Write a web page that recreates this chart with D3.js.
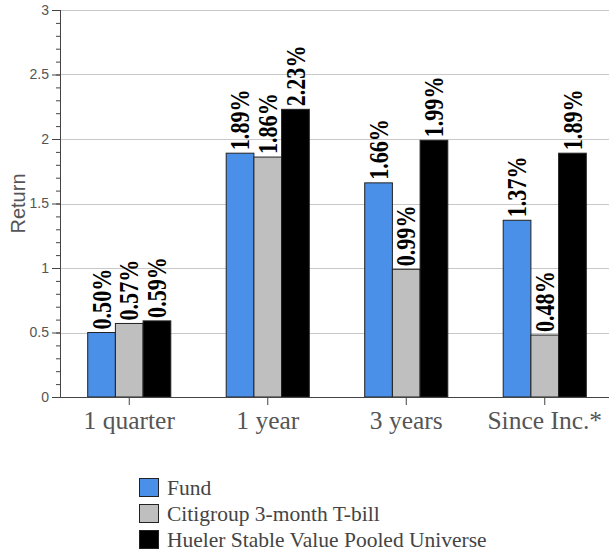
<!DOCTYPE html>
<html>
<head>
<meta charset="utf-8">
<script src="https://cdn.jsdelivr.net/npm/d3@7"></script>
<style>
  html, body { margin: 0; padding: 0; background: #fff; }
  svg { display: block; }
</style>
</head>
<body>
<svg id="chart" width="609" height="552"></svg>
<script>
const categories = ["1 quarter", "1 year", "3 years", "Since Inc.*"];
const seriesNames = ["Fund", "Citigroup 3-month T-bill", "Hueler Stable Value Pooled Universe"];
const fundValues = [0.50, 1.89, 1.66, 1.37];
const tbillValues = [0.57, 1.86, 0.99, 0.48];
const huelerValues = [0.59, 2.23, 1.99, 1.89];
const yMajorTicks = [0, 0.5, 1, 1.5, 2, 2.5, 3];
const seriesColors = ["#4a90e8", "#bfbfbf", "#000000"];

const seriesValues = [fundValues, tbillValues, huelerValues];
const svg = d3.select("#chart");

const x0 = d3.scaleBand().domain(categories).range([60, 614]).paddingInner(0.4).paddingOuter(0.2);
const x1 = d3.scaleBand().domain(seriesNames).range([0, x0.bandwidth()]);
const y = d3.scaleLinear().domain([0, 3]).range([397, 10]);

// gridlines
svg.append("g").selectAll("line").data(yMajorTicks).join("line")
  .attr("x1", 60).attr("x2", 609)
  .attr("y1", d => Math.round(y(d)) + 0.5).attr("y2", d => Math.round(y(d)) + 0.5)
  .attr("stroke", "#c8c8c8").attr("stroke-width", 1.2);

// bars
const groups = svg.append("g").selectAll("g").data(categories).join("g")
  .attr("transform", d => `translate(${x0(d)},0)`);

groups.each(function(cat, ci) {
  const g = d3.select(this);
  const rows = seriesNames.map((s, si) => ({s, si, v: seriesValues[si][ci]}));
  g.selectAll("rect").data(rows).join("rect")
    .attr("x", d => x1(d.s))
    .attr("width", x1.bandwidth())
    .attr("y", d => y(d.v))
    .attr("height", d => y(0) - y(d.v))
    .attr("fill", d => seriesColors[d.si])
    .attr("stroke", "#222")
    .attr("stroke-width", 1);
  g.selectAll("text").data(rows).join("text")
    .attr("transform", d => `translate(${x1(d.s) + x1.bandwidth() / 2},${y(d.v) - 3}) rotate(-90) scale(0.82,1)`)
    .attr("dy", "0.34em")
    .attr("font-family", "'Liberation Serif', 'Times New Roman', serif")
    .attr("font-weight", "bold")
    .attr("font-size", 27)
    .attr("fill", "#000")
    .text(d => d.v.toFixed(2) + "%");
});

// y axis
const yAxis = d3.axisLeft(y).tickValues(d3.range(0, 3.001, 0.1).map(v => +v.toFixed(1)))
  .tickSize(4).tickFormat("");
const yg = svg.append("g").attr("transform", "translate(60,0)").call(yAxis);
yg.select(".domain").remove();
yg.selectAll("line").attr("stroke", "#444");
const yAxisMajor = d3.axisLeft(y).tickValues(yMajorTicks).tickSize(8).tickPadding(3).tickFormat(d => String(d));
const ygm = svg.append("g").attr("transform", "translate(60,0)").call(yAxisMajor);
ygm.select(".domain").attr("stroke", "#444").attr("d", `M0.5,${y(3)}V${y(0)}`);
ygm.selectAll("line").attr("stroke", "#444");
ygm.selectAll("text").attr("font-family", "'Liberation Sans', Arial, sans-serif")
  .attr("font-size", 14).attr("fill", "#555");

// x axis
const xAxis = d3.axisBottom(x0).tickSize(8).tickPadding(6);
const xg = svg.append("g").attr("transform", `translate(0,${y(0)})`).call(xAxis);
xg.select(".domain").attr("stroke", "#444").attr("d", `M60,0.5H609`);
xg.selectAll("line").attr("stroke", "#444");
xg.selectAll("text").attr("font-family", "'Liberation Serif', 'Times New Roman', serif")
  .attr("font-size", 25.5).attr("fill", "#555");

// y title
svg.append("text")
  .attr("transform", `translate(25,${(y(0) + y(3)) / 2}) rotate(-90)`)
  .attr("text-anchor", "middle")
  .attr("font-family", "'Liberation Sans', Arial, sans-serif")
  .attr("font-size", 20).attr("fill", "#555")
  .text("Return");

// legend
const legend = svg.append("g").selectAll("g").data(seriesNames).join("g")
  .attr("transform", (d, i) => `translate(139,${478 + i * 26})`);
legend.append("rect").attr("x", 0.5).attr("y", 0.5).attr("width", 19).attr("height", 18)
  .attr("fill", (d, i) => seriesColors[i]).attr("stroke", "#222").attr("stroke-width", 1);
legend.append("text").attr("x", 28).attr("y", 16.5)
  .attr("font-family", "'Liberation Serif', 'Times New Roman', serif")
  .attr("font-size", 21.5).attr("fill", "#444")
  .text(d => d);
</script>
</body>
</html>
